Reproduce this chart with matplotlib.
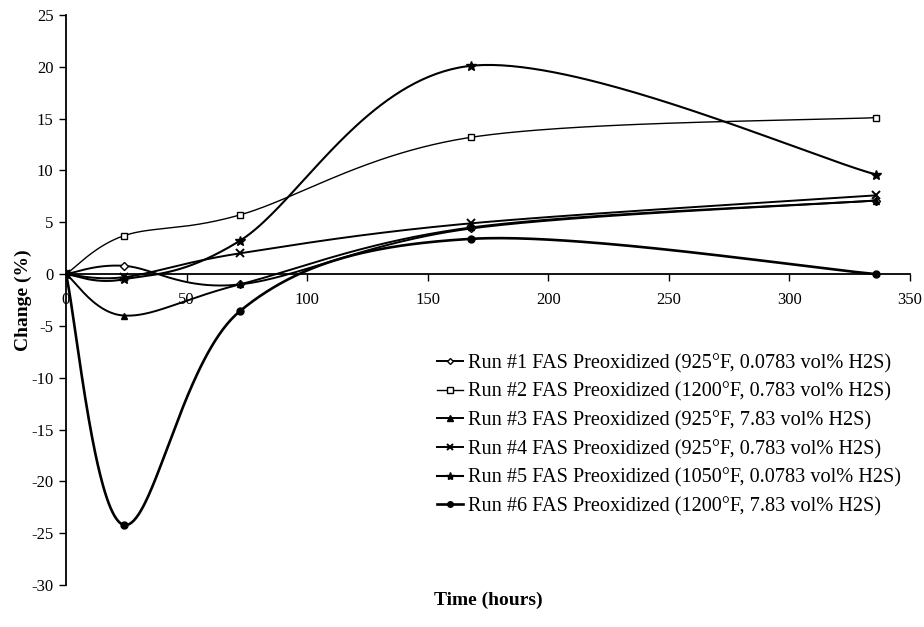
import numpy as np
import matplotlib
matplotlib.use("Agg")
import matplotlib.pyplot as plt
from matplotlib.lines import Line2D

plt.rcParams["font.family"] = ["Liberation Serif", "DejaVu Serif"]
plt.rcParams["axes.unicode_minus"] = False

# Exposure time (hours) and percent change for each run
hours = [0, 24, 72, 168, 336]
run1 = [0, 0.8, -1.0, 4.4, 7.1]
run2 = [0, 3.7, 5.7, 13.2, 15.1]
run3 = [0, -4.0, -1.0, 4.5, 7.1]
run4 = [0, -0.3, 2.0, 4.9, 7.6]
run5 = [0, -0.5, 3.2, 20.1, 9.6]
run6 = [0, -24.2, -3.6, 3.4, 0.0]

labels = [
    "Run #1 FAS Preoxidized (925°F, 0.0783 vol% H2S)",
    "Run #2 FAS Preoxidized (1200°F, 0.783 vol% H2S)",
    "Run #3 FAS Preoxidized (925°F, 7.83 vol% H2S)",
    "Run #4 FAS Preoxidized (925°F, 0.783 vol% H2S)",
    "Run #5 FAS Preoxidized (1050°F, 0.0783 vol% H2S)",
    "Run #6 FAS Preoxidized (1200°F, 7.83 vol% H2S)",
]
x_ticks = [0, 50, 100, 150, 200, 250, 300, 350]
y_ticks = [-30, -25, -20, -15, -10, -5, 0, 5, 10, 15, 20, 25]


def smooth(xs, ys, n=80):
    """Catmull-Rom style Bezier smoothing through the data points."""
    P = np.column_stack([xs, ys]).astype(float)
    P = np.vstack([P[0], P, P[-1]])
    t = np.linspace(0, 1, n)[:, None]
    parts = []
    for i in range(1, len(P) - 2):
        p0, p1, p2, p3 = P[i - 1], P[i], P[i + 1], P[i + 2]
        c1 = p1 + (p2 - p0) / 6
        c2 = p2 - (p3 - p1) / 6
        seg = ((1 - t) ** 3) * p1 + 3 * (1 - t) ** 2 * t * c1 \
            + 3 * (1 - t) * t ** 2 * c2 + t ** 3 * p2
        parts.append(seg if i == 1 else seg[1:])
    return np.vstack(parts)


styles = [
    dict(marker="D", ms=4, mfc="white", lw=1.4),
    dict(marker="s", ms=5, mfc="white", lw=1.0),
    dict(marker="^", ms=5, mfc="black", lw=1.4),
    dict(marker="x", ms=6, mfc="black", lw=1.4, mew=1.4),
    dict(marker="*", ms=7, mfc="black", lw=1.5),
    dict(marker="o", ms=5, mfc="black", lw=1.9),
]
series = [run1, run2, run3, run4, run5, run6]

fig = plt.figure(figsize=(9.24, 6.27), dpi=100)
ax = fig.add_axes([66 / 924, 42 / 627, 844 / 924, 570 / 627])

handles = []
for ys, st, lab in zip(series, styles, labels):
    curve = smooth(hours, ys)
    ax.plot(curve[:, 0], curve[:, 1], color="black", lw=st["lw"],
            solid_capstyle="round")
    ax.plot(hours, ys, ls="none", marker=st["marker"], ms=st["ms"],
            mfc=st["mfc"], mec="black", mew=st.get("mew", 1.0))
    handles.append(Line2D([], [], color="black", lw=st["lw"],
                          marker=st["marker"], ms=st["ms"] - 1,
                          mfc=st["mfc"], mec="black",
                          mew=st.get("mew", 1.0), label=lab))

ax.set_xlim(0, 350)
ax.set_ylim(-30, 25)
ax.set_xticks(x_ticks)
ax.set_yticks(y_ticks)
ax.spines["top"].set_visible(False)
ax.spines["right"].set_visible(False)
ax.spines["bottom"].set_position(("data", 0))
for s in ("left", "bottom"):
    ax.spines[s].set_linewidth(1.3)
ax.tick_params(axis="both", direction="out", length=5, width=1.0,
               labelsize=12)
ax.tick_params(axis="x", pad=8)
ax.tick_params(axis="y", pad=4)

ax.set_xlabel("Time (hours)", fontsize=14, fontweight="bold")
ax.xaxis.set_label_coords(0.5, -0.012)
ax.set_ylabel("Change (%)", fontsize=14, fontweight="bold", va="center")
ax.yaxis.set_label_coords(-0.05, 0.5)

ax.legend(handles=handles, loc="upper left",
          bbox_to_anchor=(437 / 924, 1 - 354 / 627),
          bbox_transform=fig.transFigure, frameon=False, fontsize=14.6,
          handlelength=1.3, handletextpad=0.25, labelspacing=0.45,
          borderpad=0, borderaxespad=0)

fig.savefig("out.png", dpi=100, facecolor="white")
